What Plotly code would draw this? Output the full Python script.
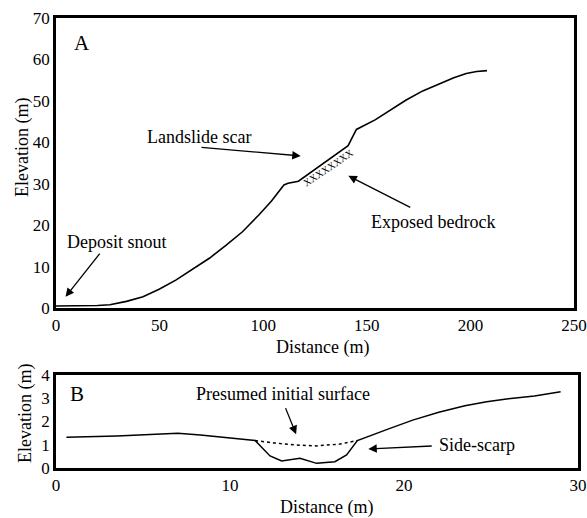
import plotly.graph_objects as go

# Panel A: longitudinal profile
dist_a = [0, 5, 10, 15, 20, 26, 34, 42, 50, 58, 66, 74, 82, 90, 98, 104, 110, 112, 117,
          141, 143, 145, 154, 162, 169, 177, 185, 192, 198, 203, 208]
elev_a = [0.5, 0.5, 0.5, 0.5, 0.6, 0.8, 1.6, 2.7, 4.6, 6.8, 9.3, 12.0, 15.1, 18.4, 22.5,
          25.8, 29.7, 30.1, 30.6, 39.2, 41.2, 43.1, 45.4, 47.9, 50.2, 52.4, 54.2, 55.6,
          56.6, 57.1, 57.3]

# Panel B: cross profile
dist_b = [0.6, 3.5, 7.0, 8.3, 11.44, 12.3, 12.97, 14.02, 14.98, 16.03, 16.7, 17.32,
          19.0, 20.5, 22.0, 23.5, 24.75, 26.0, 27.5, 29.0]
elev_b = [1.32, 1.38, 1.49, 1.42, 1.18, 0.52, 0.30, 0.42, 0.20, 0.27, 0.56, 1.18,
          1.65, 2.06, 2.40, 2.68, 2.85, 2.98, 3.10, 3.28]
dist_init = [11.44, 12.5, 13.83, 14.98, 16.32, 17.32]
elev_init = [1.18, 1.08, 0.99, 0.95, 1.03, 1.18]

xticks_a = [0, 50, 100, 150, 200, 250]
yticks_a = [0, 10, 20, 30, 40, 50, 60, 70]
xticks_b = [0, 10, 20, 30]
yticks_b = [0, 1, 2, 3, 4]

FONT = "Liberation Serif"
W, H = 587, 518

fig = go.Figure()
fig.add_trace(go.Scatter(x=dist_a, y=elev_a, mode="lines", line=dict(color="black", width=1.6),
                         xaxis="x", yaxis="y", showlegend=False))
fig.add_trace(go.Scatter(x=dist_b, y=elev_b, mode="lines", line=dict(color="black", width=1.5),
                         xaxis="x2", yaxis="y2", showlegend=False))
fig.add_trace(go.Scatter(x=dist_init, y=elev_init, mode="lines",
                         line=dict(color="black", width=1.5, dash="3px,3px"),
                         xaxis="x2", yaxis="y2", showlegend=False))

axis_common = dict(showline=True, mirror=True, linewidth=2.5, linecolor="black",
                   showgrid=False, zeroline=False, ticks="", automargin=False,
                   tickfont=dict(family=FONT, size=17, color="black"))

fig.update_layout(
    width=W, height=H,
    margin=dict(l=0, r=0, t=0, b=0, autoexpand=False),
    paper_bgcolor="white", plot_bgcolor="white",
    font=dict(family=FONT, color="black"),
    xaxis=dict(domain=[56 / W, 574 / W], range=[0, 250], tickvals=xticks_a,
               anchor="y", **axis_common),
    yaxis=dict(domain=[1 - 308 / H, 1 - 18 / H], range=[0, 70], tickvals=yticks_a,
               anchor="x", **axis_common),
    xaxis2=dict(domain=[56 / W, 578 / W], range=[0, 30], tickvals=xticks_b,
                anchor="y2", **axis_common),
    yaxis2=dict(domain=[1 - 468 / H, 1 - 375 / H], range=[0, 4], tickvals=yticks_b,
                anchor="x2", **axis_common),
)

ann = []
def txt(x, y, s, xref="x", yref="y", size=18, angle=0):
    ann.append(dict(x=x, y=y, xref=xref, yref=yref, text=s, showarrow=False,
                    xanchor="center", yanchor="middle",
                    textangle=angle, font=dict(family=FONT, size=size, color="black")))

def arrow(x0, y0, x1, y1, xref="x", yref="y"):
    ann.append(dict(x=x1, y=y1, ax=x0, ay=y0, xref=xref, yref=yref, axref=xref, ayref=yref,
                    text="", showarrow=True, arrowhead=2, arrowsize=1.3, arrowwidth=1.3,
                    arrowcolor="black"))

# Panel A labels
txt(12.5, 64.0, "A", size=21)
txt(68.8, 41.3, "Landslide scar")
arrow(69.5, 38.8, 118.1, 36.7)
txt(182, 20.8, "Exposed bedrock")
arrow(171.7, 24.1, 141.1, 31.9)
txt(29.2, 16.0, "Deposit snout")
arrow(21.7, 13.5, 4.6, 2.7)
txt(131.5, 34.0, "XXXXXXXX", size=10, angle=-34)

# Panel B labels
txt(1.2, 3.2, "B", xref="x2", yref="y2", size=21)
txt(13.07, 3.2, "Presumed initial surface", xref="x2", yref="y2")
arrow(13.16, 2.64, 13.8, 1.45, xref="x2", yref="y2")
txt(24.2, 0.99, "Side-scarp", xref="x2", yref="y2")
arrow(21.68, 0.95, 17.95, 0.82, xref="x2", yref="y2")

# Axis titles
txt(22 / W, 1 - 148 / H, "Elevation (m)", xref="paper", yref="paper", angle=-90)
txt(25 / W, 1 - 414 / H, "Elevation (m)", xref="paper", yref="paper", angle=-90)
txt(322 / W, 1 - 347 / H, "Distance (m)", xref="paper", yref="paper")
txt(326 / W, 1 - 507 / H, "Distance (m)", xref="paper", yref="paper")

fig.update_layout(annotations=ann)
fig.write_html("out.html", config={"displayModeBar": False},
               post_script="document.body.style.margin='0';document.body.style.overflow='hidden';")
